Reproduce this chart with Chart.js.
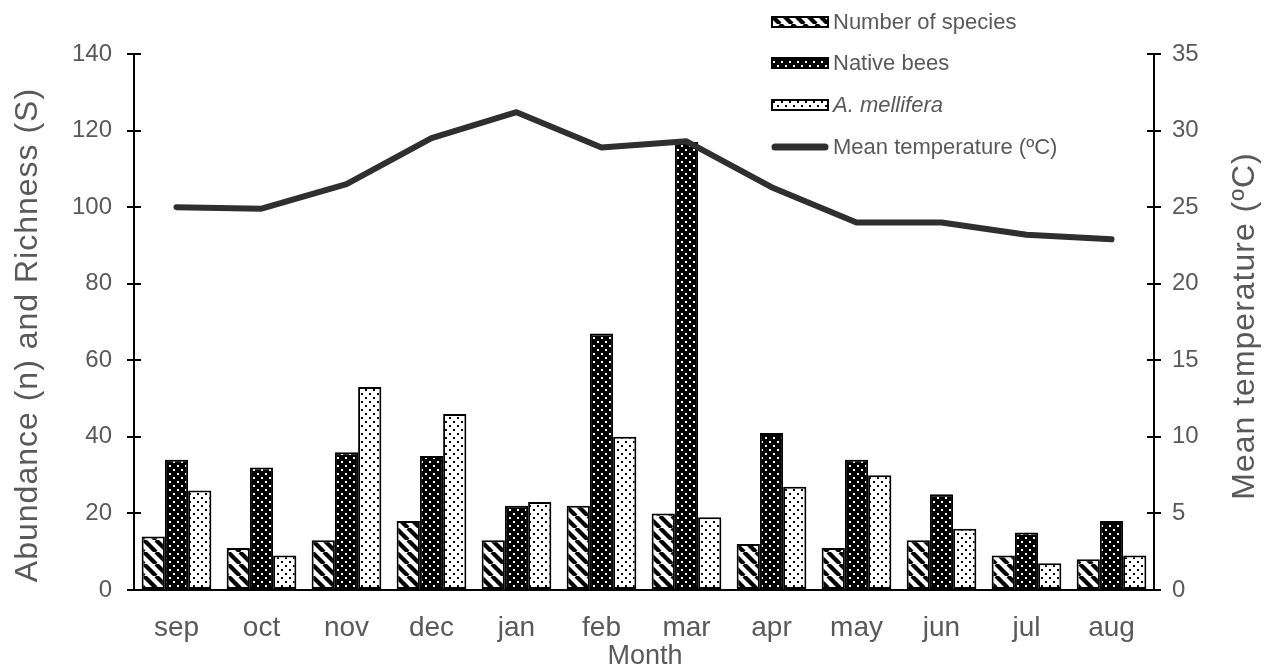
<!DOCTYPE html>
<html>
<head>
<meta charset="utf-8">
<script src="https://cdn.jsdelivr.net/npm/chart.js@4.4.1/dist/chart.umd.min.js"></script>
<style>
  html, body { margin: 0; padding: 0; background: #fff; overflow: hidden; }
  canvas { display: block; }
</style>
</head>
<body>
<canvas id="chart" width="1269" height="669"></canvas>
<script>
// Monthly bee sampling: richness, abundance and mean temperature
const months = ['sep', 'oct', 'nov', 'dec', 'jan', 'feb', 'mar', 'apr', 'may', 'jun', 'jul', 'aug'];
const speciesCount   = [14, 11, 13, 18, 13, 22, 20, 12, 11, 13, 9, 8];
const nativeBees     = [34, 32, 36, 35, 22, 67, 117, 41, 34, 25, 15, 18];
const apisMellifera  = [26, 9, 53, 46, 23, 40, 19, 27, 30, 16, 7, 9];
const meanTemperature = [25.0, 24.9, 26.5, 29.5, 31.2, 28.9, 29.3, 26.3, 24.0, 24.0, 23.2, 22.9];

const abundanceRange = { min: 0, max: 140, step: 20 };
const temperatureRange = { min: 0, max: 35, step: 5 };

const FONT = "'Liberation Sans', Arial, sans-serif";
const TEXT = '#595959';
const LINE = '#2f2f2f';

// ---- fill patterns ----
function makeTile(w, h, draw) {
  const c = document.createElement('canvas');
  c.width = w; c.height = h;
  draw(c.getContext('2d'), w, h);
  return document.createElement('canvas').getContext('2d').createPattern(c, 'repeat');
}
const stripePattern = makeTile(12, 12, (g, w) => {
  g.fillStyle = '#fff'; g.fillRect(0, 0, w, w);
  g.strokeStyle = '#000'; g.lineWidth = 4.2;
  for (let o = -w; o <= w; o += w) {
    g.beginPath(); g.moveTo(o, 0); g.lineTo(o + w, w); g.stroke();
  }
});
const darkDotPattern = makeTile(8, 8, g => {
  g.fillStyle = '#000'; g.fillRect(0, 0, 8, 8);
  g.fillStyle = '#fff';
  g.fillRect(1, 1, 2, 2); g.fillRect(5, 5, 2, 2);
});
const lightDotPattern = makeTile(8, 8, g => {
  g.fillStyle = '#fff'; g.fillRect(0, 0, 8, 8);
  g.fillStyle = '#000';
  g.fillRect(1, 1, 2, 2); g.fillRect(5, 5, 2, 2);
});

// ---- ticks crossing both sides of the vertical axes ----
const crossTicks = {
  id: 'crossTicks',
  afterDraw(chart) {
    const { ctx } = chart;
    ctx.save();
    ctx.strokeStyle = '#000'; ctx.lineWidth = 2;
    [['y', 1], ['yTemp', -1]].forEach(([id, dir]) => {
      const s = chart.scales[id];
      const x = dir > 0 ? s.right : s.left;
      s.ticks.forEach((t, i) => {
        const y = Math.round(s.getPixelForTick(i));
        ctx.beginPath(); ctx.moveTo(x, y); ctx.lineTo(x + 7 * dir, y); ctx.stroke();
      });
    });
    ctx.restore();
  }
};

// ---- axis titles ----
const axisTitles = {
  id: 'axisTitles',
  afterDraw(chart) {
    const { ctx } = chart;
    ctx.save();
    ctx.fillStyle = TEXT;
    ctx.textAlign = 'center'; ctx.textBaseline = 'middle';
    ctx.letterSpacing = '1px';
    ctx.font = `32px ${FONT}`;
    ctx.save(); ctx.translate(28, 335); ctx.rotate(-Math.PI / 2);
    ctx.fillText('Abundance (n) and Richness (S)', 0, 0); ctx.restore();
    ctx.save(); ctx.translate(1245, 326); ctx.rotate(-Math.PI / 2);
    ctx.fillText('Mean temperature (ºC)', 0, 0); ctx.restore();
    ctx.letterSpacing = '0px';
    ctx.font = `27px ${FONT}`;
    ctx.fillText('Month', 645, 657);
    ctx.restore();
  }
};

// ---- legend ----
const legendBox = {
  id: 'legendBox',
  afterDraw(chart) {
    const { ctx } = chart;
    const x0 = 772, w = 56, tx = 833;
    const items = [
      { text: 'Number of species', fill: stripePattern, y: 22 },
      { text: 'Native bees', fill: darkDotPattern, y: 63 },
      { text: 'A. mellifera', fill: lightDotPattern, y: 105, italic: true },
      { text: 'Mean temperature (ºC)', line: true, y: 147 }
    ];
    ctx.save();
    items.forEach(it => {
      if (it.line) {
        ctx.strokeStyle = LINE; ctx.lineWidth = 7; ctx.lineCap = 'round';
        ctx.beginPath(); ctx.moveTo(x0 + 3, it.y); ctx.lineTo(x0 + w - 3, it.y); ctx.stroke();
      } else {
        ctx.fillStyle = it.fill;
        ctx.fillRect(x0, it.y - 5, w, 10);
        ctx.strokeStyle = '#000'; ctx.lineWidth = 2;
        ctx.strokeRect(x0, it.y - 5, w, 10);
      }
      ctx.fillStyle = TEXT;
      ctx.font = `${it.italic ? 'italic ' : ''}22px ${FONT}`;
      ctx.textAlign = 'left'; ctx.textBaseline = 'middle';
      ctx.fillText(it.text, tx, it.y + 1);
    });
    ctx.restore();
  }
};

const barStyle = { borderColor: '#000', borderWidth: 2, borderSkipped: false, yAxisID: 'y', order: 1 };

new Chart(document.getElementById('chart'), {
  type: 'bar',
  data: {
    labels: months,
    datasets: [
      {
        type: 'line', label: 'Mean temperature (ºC)', data: meanTemperature, yAxisID: 'yTemp',
        borderColor: LINE, borderWidth: 6, pointRadius: 0, tension: 0,
        borderJoinStyle: 'round', borderCapStyle: 'round', order: 0
      },
      { label: 'Number of species', data: speciesCount, backgroundColor: stripePattern, ...barStyle },
      { label: 'Native bees', data: nativeBees, backgroundColor: darkDotPattern, ...barStyle },
      { label: 'A. mellifera', data: apisMellifera, backgroundColor: lightDotPattern, ...barStyle }
    ]
  },
  options: {
    responsive: false,
    animation: false,
    devicePixelRatio: 1,
    layout: { padding: { top: 54, left: 0, right: 0, bottom: 0 } },
    datasets: { bar: { categoryPercentage: 0.82, barPercentage: 1 } },
    plugins: { legend: { display: false }, tooltip: { enabled: false } },
    scales: {
      x: {
        grid: { display: false },
        border: { display: true, color: '#000', width: 2 },
        ticks: { color: TEXT, font: { family: FONT, size: 28 }, padding: 13 },
        afterFit(s) { s.height = 79; }
      },
      y: {
        position: 'left',
        min: abundanceRange.min, max: abundanceRange.max,
        ticks: { stepSize: abundanceRange.step, color: TEXT, font: { family: FONT, size: 24 }, padding: 15 },
        grid: { drawOnChartArea: false, drawTicks: true, tickLength: 7, color: '#000', lineWidth: 2 },
        border: { display: true, color: '#000', width: 2 },
        afterFit(s) { s.width = 134; }
      },
      yTemp: {
        position: 'right',
        min: temperatureRange.min, max: temperatureRange.max,
        ticks: { stepSize: temperatureRange.step, color: TEXT, font: { family: FONT, size: 24 }, padding: 11 },
        grid: { drawOnChartArea: false, drawTicks: true, tickLength: 7, color: '#000', lineWidth: 2 },
        border: { display: true, color: '#000', width: 2 },
        afterFit(s) { s.width = 115; }
      }
    }
  },
  plugins: [crossTicks, axisTitles, legendBox]
});
</script>
</body>
</html>
